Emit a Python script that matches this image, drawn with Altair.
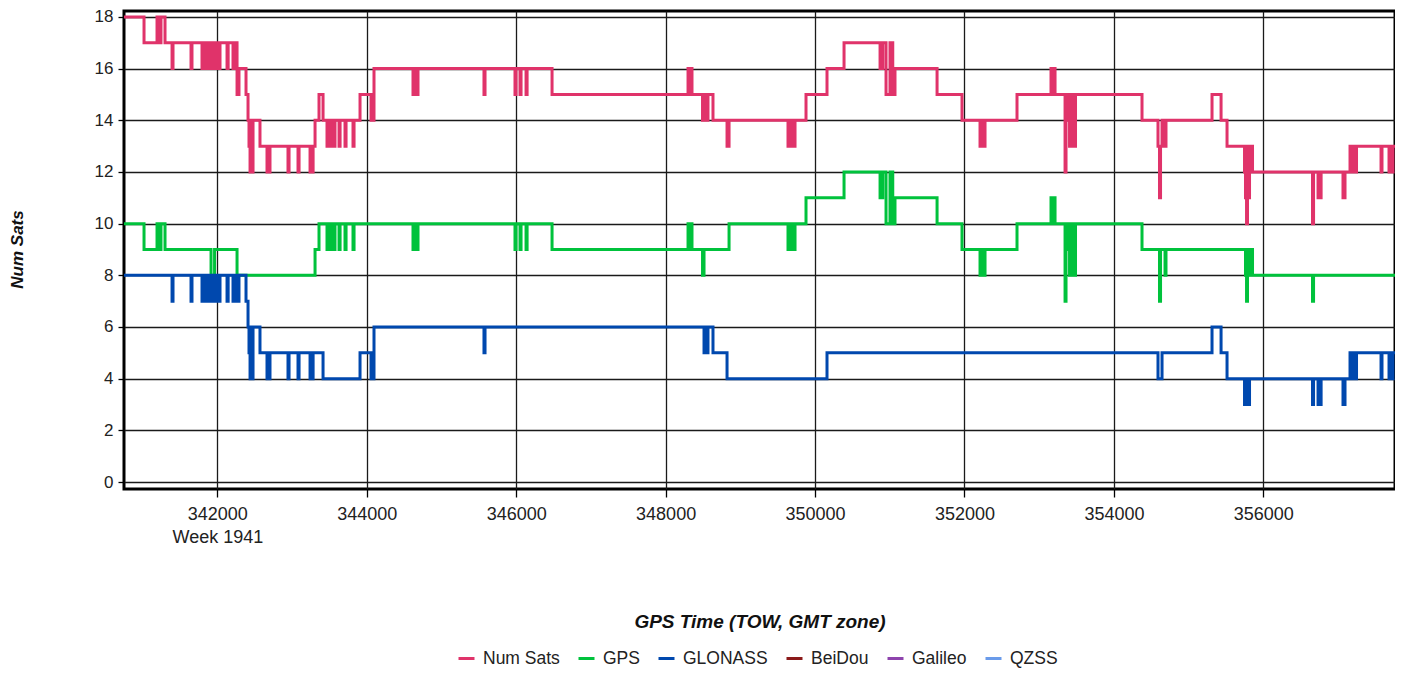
import altair as alt
import pandas as pd

# Change epochs (GPS time of week, s) and the satellite counts that start there
tow = [340751, 341019, 341193, 341233, 341246, 341300, 341394, 341407, 341648, 341661,
       341795, 341812, 341828, 341845, 341862, 341878, 341895, 341916, 341930, 341945,
       341963, 341980, 341996, 342012, 342024, 342036, 342130, 342145, 342210, 342224,
       342264, 342290, 342384, 342411, 342424, 342438, 342451, 342464, 342478, 342571,
       342665, 342679, 342692, 342705, 342946, 342960, 343080, 343094, 343241, 343255,
       343268, 343282, 343308, 343361, 343415, 343468, 343485, 343500, 343518, 343535,
       343552, 343562, 343575, 343629, 343643, 343709, 343723, 343816, 343830, 343910,
       344057, 344097, 344619, 344636, 344652, 344686, 345569, 345583, 345984, 345998,
       346051, 346065, 346132, 346146, 346480, 348300, 348315, 348330, 348353, 348494,
       348514, 348534, 348547, 348567, 348634, 348822, 348849, 349638, 349655, 349672,
       349690, 349707, 349732, 349879, 350160, 350388, 350870, 350906, 350950, 351003,
       351040, 351070, 351633, 351967, 352208, 352225, 352242, 352275, 352703, 353158,
       353175, 353192, 353212, 353346, 353359, 353386, 353406, 353426, 353440, 353459,
       353473, 353486, 354376, 354590, 354610, 354624, 354644, 354684, 354697, 355313,
       355434, 355514, 355748, 355761, 355775, 355788, 355801, 355815, 355828, 355842,
       355855, 356658, 356672, 356732, 356746, 356759, 356773, 357066, 357093, 357160,
       357187, 357207, 357227, 357247, 357575, 357588, 357682, 357702, 357722, 357735,
       357762]

gps = [10, 9, 10, 9, 10, 9, 9, 9, 9, 9,
       9, 9, 9, 9, 9, 9, 9, 8, 8, 8,
       9, 9, 9, 9, 9, 9, 9, 9, 9, 9,
       8, 8, 8, 8, 8, 8, 8, 8, 8, 8,
       8, 8, 8, 8, 8, 8, 8, 8, 8, 8,
       8, 8, 9, 10, 10, 9, 10, 9, 10, 9,
       10, 9, 10, 9, 10, 9, 10, 9, 10, 10,
       10, 10, 9, 10, 9, 10, 10, 10, 9, 10,
       9, 10, 9, 10, 9, 10, 9, 10, 9, 8,
       9, 9, 9, 9, 9, 9, 10, 9, 10, 9,
       10, 9, 10, 11, 11, 12, 11, 12, 10, 12,
       10, 11, 10, 9, 8, 9, 8, 9, 10, 11,
       10, 11, 10, 7, 10, 9, 8, 10, 8, 10,
       8, 10, 9, 9, 7, 9, 9, 8, 9, 9,
       9, 9, 9, 8, 7, 9, 8, 9, 8, 9,
       8, 7, 8, 8, 8, 8, 8, 8, 8, 8,
       8, 8, 8, 8, 8, 8, 8, 8, 8, 8,
       8]

glonass = [8, 8, 8, 8, 8, 8, 7, 8, 7, 8,
           7, 8, 7, 8, 7, 8, 7, 8, 7, 8,
           7, 8, 7, 8, 7, 8, 7, 8, 7, 8,
           7, 8, 7, 6, 5, 4, 6, 4, 6, 5,
           4, 5, 4, 5, 4, 5, 4, 5, 4, 5,
           4, 5, 5, 5, 4, 4, 4, 4, 4, 4,
           4, 4, 4, 4, 4, 4, 4, 4, 4, 5,
           4, 6, 6, 6, 6, 6, 5, 6, 6, 6,
           6, 6, 6, 6, 6, 6, 6, 6, 6, 6,
           5, 6, 5, 6, 5, 4, 4, 4, 4, 4,
           4, 4, 4, 4, 5, 5, 5, 5, 5, 5,
           5, 5, 5, 5, 5, 5, 5, 5, 5, 5,
           5, 5, 5, 5, 5, 5, 5, 5, 5, 5,
           5, 5, 5, 4, 4, 4, 5, 5, 5, 6,
           5, 4, 3, 3, 3, 4, 3, 4, 4, 4,
           4, 3, 4, 3, 4, 3, 4, 3, 4, 5,
           4, 5, 4, 5, 4, 5, 4, 5, 4, 5,
           5]

num_sats = [18, 17, 18, 17, 18, 17, 16, 17, 16, 17,
            16, 17, 16, 17, 16, 17, 16, 17, 16, 17,
            16, 17, 16, 17, 16, 17, 16, 17, 16, 17,
            15, 16, 15, 14, 13, 12, 14, 12, 14, 13,
            12, 13, 12, 13, 12, 13, 12, 13, 12, 13,
            12, 13, 14, 15, 14, 13, 14, 13, 14, 13,
            14, 13, 14, 13, 14, 13, 14, 13, 14, 15,
            14, 16, 15, 16, 15, 16, 15, 16, 15, 16,
            15, 16, 15, 16, 15, 16, 15, 16, 15, 14,
            14, 15, 14, 15, 14, 13, 14, 13, 14, 13,
            14, 13, 14, 15, 16, 17, 16, 17, 15, 17,
            15, 16, 15, 14, 13, 14, 13, 14, 15, 16,
            15, 16, 15, 12, 15, 14, 13, 15, 13, 15,
            13, 15, 14, 13, 11, 13, 14, 13, 14, 15,
            14, 13, 12, 11, 10, 13, 11, 13, 12, 13,
            12, 10, 12, 11, 12, 11, 12, 11, 12, 13,
            12, 13, 12, 13, 12, 13, 12, 13, 12, 13,
            13]

series_names = ["Num Sats", "GPS", "GLONASS", "BeiDou", "Galileo", "QZSS"]
series_colors = ["#E0336A", "#00C23C", "#0048AE", "#8B1A1A", "#8E44AD", "#6A9BEA"]

x_ticks = [342000, 344000, 346000, 348000, 350000, 352000, 354000, 356000]
y_ticks = [0, 2, 4, 6, 8, 10, 12, 14, 16, 18]

rows = []
for t, n, g, r in zip(tow, num_sats, gps, glonass):
    rows.append({"tow": t, "series": "Num Sats", "value": n})
    rows.append({"tow": t, "series": "GPS", "value": g})
    rows.append({"tow": t, "series": "GLONASS", "value": r})
df = pd.DataFrame(rows)

FONT = "Liberation Sans"

chart = alt.Chart(df).mark_line(
    interpolate="step-after", strokeWidth=3, clip=True
).encode(
    x=alt.X(
        "tow:Q",
        scale=alt.Scale(domain=[340751, 357762], nice=False, zero=False),
        axis=alt.Axis(
            values=x_ticks, format="d",
            labelExpr="datum.value == 342000 ? ['342000', 'Week 1941'] : datum.label",
            labelLineHeight=23, labelFontSize=18, labelFont=FONT, labelColor="#222222",
            labelPadding=8, tickSize=8, tickColor="#000000", tickWidth=1.3,
            title="GPS Time (TOW, GMT zone)", titleFont=FONT, titleFontSize=19,
            titleFontWeight="bold", titleFontStyle="italic", titleColor="#111111",
            titleY=132, titleBaseline="middle",
            grid=True, gridColor="#1a1a1a", gridWidth=1.3, domain=False,
        ),
    ),
    y=alt.Y(
        "value:Q",
        scale=alt.Scale(domain=[-0.27, 18.23], nice=False, zero=False),
        axis=alt.Axis(
            values=y_ticks, labelFontSize=17, labelFont=FONT, labelColor="#222222",
            labelPadding=5, tickSize=6, tickColor="#000000", tickWidth=1.3,
            title="Num Sats", titleFont=FONT, titleFontSize=17,
            titleFontWeight="bold", titleFontStyle="italic", titleColor="#111111",
            titleX=-107, titleY=238, titleAngle=270, titleAlign="center",
            titleBaseline="middle",
            grid=True, gridColor="#1a1a1a", gridWidth=1.3, domain=False,
        ),
    ),
    color=alt.Color(
        "series:N",
        scale=alt.Scale(domain=series_names, range=series_colors),
        legend=alt.Legend(
            title=None, orient="none", legendX=333, legendY=638,
            direction="horizontal", columns=6, symbolType="stroke",
            symbolSize=256, symbolStrokeWidth=3, labelFont=FONT,
            labelFontSize=17.5, labelColor="#222222", labelOffset=7,
            columnPadding=12,
        ),
    ),
).properties(
    width=1271, height=478,
    autosize=alt.AutoSizeParams(type="none"),
    padding={"left": 116, "top": 3, "right": 0, "bottom": 180},
).configure_view(
    stroke="#000000", strokeWidth=3
)

chart.save("out.html", embed_options={"renderer": "svg", "actions": False})
